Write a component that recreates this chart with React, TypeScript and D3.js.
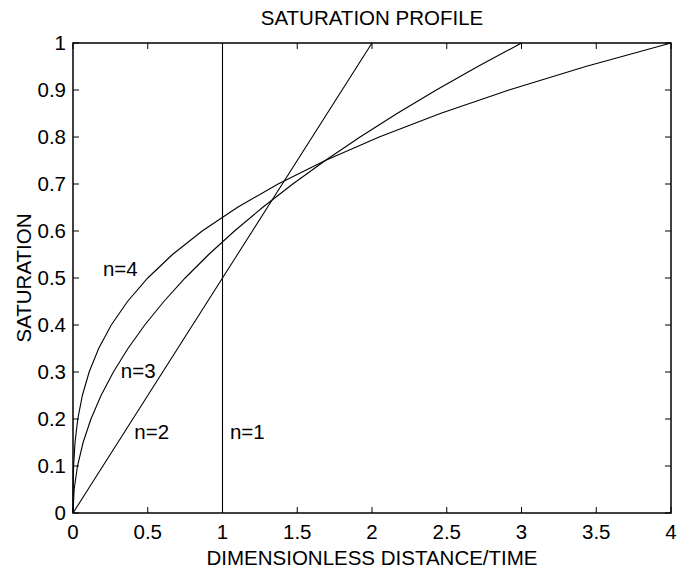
import React from "react";
import * as d3 from "d3";

const saturation = [0, 0.05, 0.1, 0.15, 0.2, 0.25, 0.3, 0.35, 0.4, 0.45, 0.5, 0.55, 0.6, 0.65, 0.7, 0.75, 0.8, 0.85, 0.9, 0.95, 1];
const distN2 = [0, 0.1, 0.2, 0.3, 0.4, 0.5, 0.6, 0.7, 0.8, 0.9, 1.0, 1.1, 1.2, 1.3, 1.4, 1.5, 1.6, 1.7, 1.8, 1.9, 2.0];
const distN3 = [0, 0.0075, 0.03, 0.0675, 0.12, 0.1875, 0.27, 0.3675, 0.48, 0.6075, 0.75, 0.9075, 1.08, 1.2675, 1.47, 1.6875, 1.92, 2.1675, 2.43, 2.7075, 3.0];
const distN4 = [0, 0.0005, 0.004, 0.0135, 0.032, 0.0625, 0.108, 0.1715, 0.256, 0.3645, 0.5, 0.6655, 0.864, 1.0985, 1.372, 1.6875, 2.048, 2.4565, 2.916, 3.4295, 4.0];
const distN1 = [1, 1];
const satN1 = [0, 1];

const xTicks = [0, 0.5, 1, 1.5, 2, 2.5, 3, 3.5, 4];
const yTicks = [0, 0.1, 0.2, 0.3, 0.4, 0.5, 0.6, 0.7, 0.8, 0.9, 1];

const curveLabels = [
  { text: "n=4", x: 0.2, y: 0.505 },
  { text: "n=3", x: 0.32, y: 0.287 },
  { text: "n=2", x: 0.41, y: 0.157 },
  { text: "n=1", x: 1.05, y: 0.157 },
];

const W = 682, H = 569;
const L = 73, R = 671, T = 43, B = 513;
const FONT = "'Liberation Sans', Arial, Helvetica, sans-serif";
const FS = 20.5;

export default function App() {
  const x = d3.scaleLinear().domain([0, 4]).range([L, R]);
  const y = d3.scaleLinear().domain([0, 1]).range([B, T]);
  const line = d3
    .line<[number, number]>()
    .x((d) => x(d[0]))
    .y((d) => y(d[1]));
  const series = [
    distN1.map((d, i) => [d, satN1[i]] as [number, number]),
    distN2.map((d, i) => [d, saturation[i]] as [number, number]),
    distN3.map((d, i) => [d, saturation[i]] as [number, number]),
    distN4.map((d, i) => [d, saturation[i]] as [number, number]),
  ];
  const tk = 6;
  return (
    <svg
      width={W}
      height={H}
      style={{ position: "absolute", left: 0, top: 0, background: "#fff" }}
      fontFamily={FONT}
    >
      <rect x={0} y={0} width={W} height={H} fill="#fff" />
      {series.map((s, i) => (
        <path key={i} d={line(s) || ""} fill="none" stroke="#000" strokeWidth={1.1} />
      ))}
      {xTicks.map((t) => (
        <g key={"x" + t}>
          <line x1={x(t)} x2={x(t)} y1={B} y2={B - tk} stroke="#000" />
          <line x1={x(t)} x2={x(t)} y1={T} y2={T + tk} stroke="#000" />
          <text x={x(t)} y={539} fontSize={FS} textAnchor="middle">
            {String(t)}
          </text>
        </g>
      ))}
      {yTicks.map((t) => (
        <g key={"y" + t}>
          <line x1={L} x2={L + tk} y1={y(t)} y2={y(t)} stroke="#000" />
          <line x1={R} x2={R - tk} y1={y(t)} y2={y(t)} stroke="#000" />
          <text x={66} y={y(t)} dy="0.36em" fontSize={FS} textAnchor="end">
            {String(t)}
          </text>
        </g>
      ))}
      <rect x={L} y={T} width={R - L} height={B - T} fill="none" stroke="#000" strokeWidth={1.5} />
      {curveLabels.map((c) => (
        <text key={c.text} x={x(c.x)} y={y(c.y)} fontSize={FS}>
          {c.text}
        </text>
      ))}
      <text x={(L + R) / 2} y={25} fontSize={FS} textAnchor="middle">
        SATURATION PROFILE
      </text>
      <text x={(L + R) / 2} y={565} fontSize={FS} textAnchor="middle">
        DIMENSIONLESS DISTANCE/TIME
      </text>
      <text
        transform={`translate(31, ${(T + B) / 2}) rotate(-90)`}
        fontSize={FS}
        textAnchor="middle"
      >
        SATURATION
      </text>
    </svg>
  );
}
